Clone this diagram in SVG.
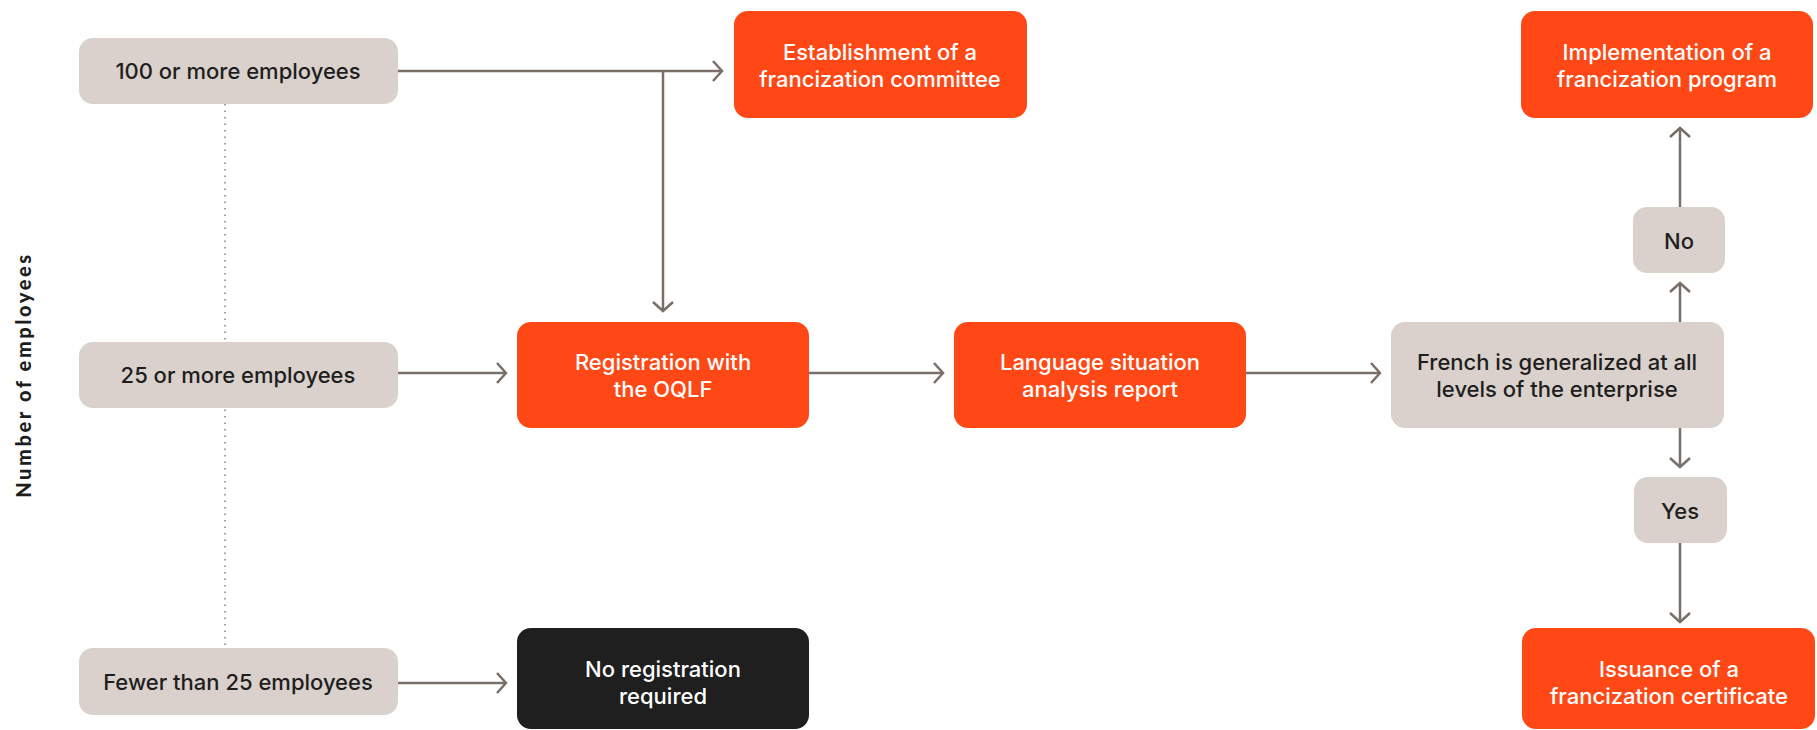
<svg xmlns="http://www.w3.org/2000/svg" width="1817" height="730" viewBox="0 0 1817 730">
<defs>
<style>
.grey{fill:#DAD1CC}
.orange{fill:#FF4816}
.black{fill:#1F1F1F}
.t{font-family:"Inter","Noto Sans","Liberation Sans",sans-serif;font-size:22px;font-weight:500;text-anchor:middle;dominant-baseline:central}
.dk{fill:#1E1E1E}
.wh{fill:#FFFFFF}
.conn{fill:none;stroke:#7A6E68;stroke-width:2.5}
.dot{fill:none;stroke:#8A7E78;stroke-width:1.5;stroke-dasharray:1.5 5}
.axis{font-family:"Lato","Liberation Sans",sans-serif;font-size:20px;font-weight:900;letter-spacing:2.6px;text-anchor:middle;fill:#1E1E1E}
</style>
<marker id="arr" markerUnits="userSpaceOnUse" markerWidth="24" markerHeight="24" viewBox="-12 -12 24 24" refX="0" refY="0" orient="auto">
<path d="M-9,-10 L0,0 L-9,10" fill="none" stroke="#7A6E68" stroke-width="2.5"/>
</marker>
</defs>
<rect width="1817" height="730" fill="#FFFFFF"/>
<text class="axis" transform="translate(23,375) rotate(-90)" dominant-baseline="central">Number of employees</text>
<g id="connectors">
<path class="dot" d="M225,104 V648"/>
<path class="conn" d="M398,71 H722" marker-end="url(#arr)"/>
<path class="conn" d="M663,71 V311" marker-end="url(#arr)"/>
<path class="conn" d="M398,373 H506" marker-end="url(#arr)"/>
<path class="conn" d="M809,373 H943" marker-end="url(#arr)"/>
<path class="conn" d="M1246,373 H1380" marker-end="url(#arr)"/>
<path class="conn" d="M1680,322 V283" marker-end="url(#arr)"/>
<path class="conn" d="M1680,207 V128" marker-end="url(#arr)"/>
<path class="conn" d="M1680,428 V467" marker-end="url(#arr)"/>
<path class="conn" d="M1680,543 V622" marker-end="url(#arr)"/>
<path class="conn" d="M398,683 H506" marker-end="url(#arr)"/>
</g>
<g id="n100">
<rect class="grey" x="79" y="38" width="319" height="66" rx="14"/>
<text class="t dk" x="238" y="71">100 or more employees</text>
</g>
<g id="n25">
<rect class="grey" x="79" y="342" width="319" height="66" rx="14"/>
<text class="t dk" x="238" y="375">25 or more employees</text>
</g>
<g id="nfewer">
<rect class="grey" x="79" y="648" width="319" height="67" rx="14"/>
<text class="t dk" x="238" y="682">Fewer than 25 employees</text>
</g>
<g id="nestab">
<rect class="orange" x="734" y="11" width="293" height="107" rx="14"/>
<text class="t wh" x="880" y="52">Establishment of a</text>
<text class="t wh" x="880" y="79">francization committee</text>
</g>
<g id="nreg">
<rect class="orange" x="517" y="322" width="292" height="106" rx="14"/>
<text class="t wh" x="663" y="362">Registration with</text>
<text class="t wh" x="663" y="389">the OQLF</text>
</g>
<g id="nlang">
<rect class="orange" x="954" y="322" width="292" height="106" rx="14"/>
<text class="t wh" x="1100" y="362">Language situation</text>
<text class="t wh" x="1100" y="389">analysis report</text>
</g>
<g id="nfrench">
<rect class="grey" x="1391" y="322" width="333" height="106" rx="14"/>
<text class="t dk" x="1557" y="362">French is generalized at all</text>
<text class="t dk" x="1557" y="389">levels of the enterprise</text>
</g>
<g id="nno">
<rect class="grey" x="1633" y="207" width="92" height="66" rx="14"/>
<text class="t dk" x="1679" y="241">No</text>
</g>
<g id="nyes">
<rect class="grey" x="1634" y="477" width="93" height="66" rx="14"/>
<text class="t dk" x="1680" y="511">Yes</text>
</g>
<g id="nimpl">
<rect class="orange" x="1521" y="11" width="292" height="107" rx="14"/>
<text class="t wh" x="1667" y="52">Implementation of a</text>
<text class="t wh" x="1667" y="79">francization program</text>
</g>
<g id="nnoreg">
<rect class="black" x="517" y="628" width="292" height="101" rx="14"/>
<text class="t wh" x="663" y="669">No registration</text>
<text class="t wh" x="663" y="696">required</text>
</g>
<g id="niss">
<rect class="orange" x="1522" y="628" width="293" height="101" rx="14"/>
<text class="t wh" x="1669" y="669">Issuance of a</text>
<text class="t wh" x="1669" y="696">francization certificate</text>
</g>
</svg>
